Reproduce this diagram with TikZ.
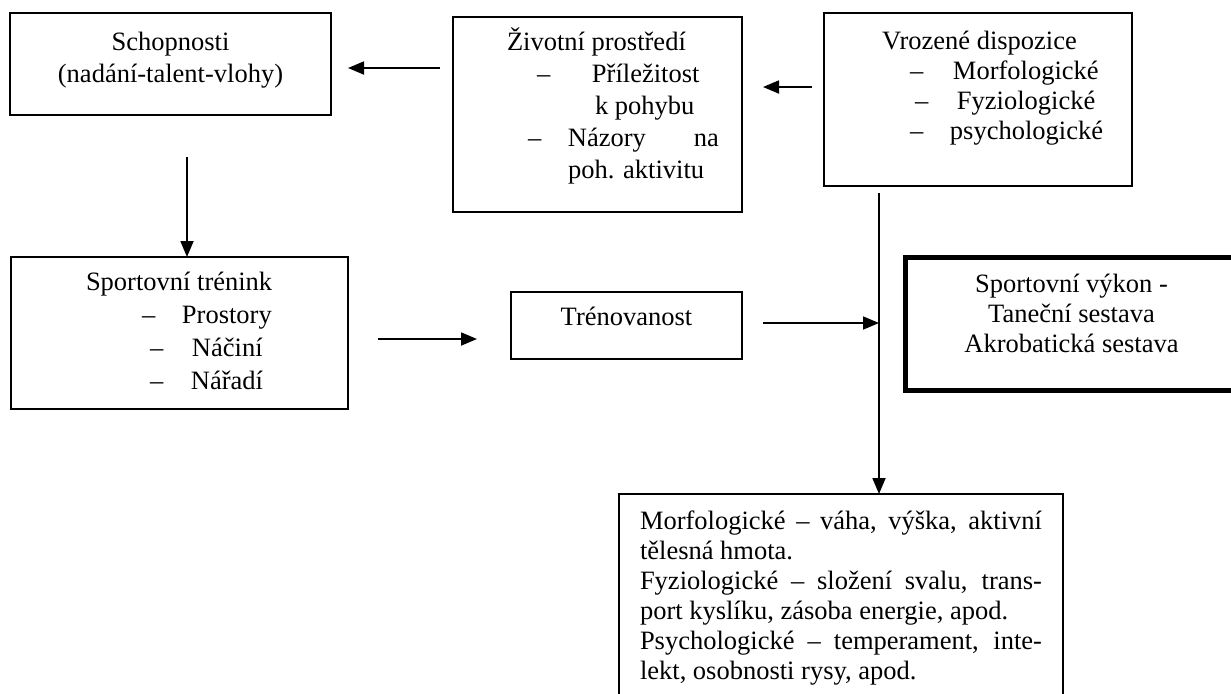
\documentclass[tikz,border=0pt]{standalone}
\usepackage{fontspec}
\setmainfont{Liberation Serif}
\usepackage{tikz}
\usetikzlibrary{arrows.meta}

\newcommand{\obsah}[5]{\parbox[c][#2][t]{#1}{\fontsize{13.25pt}{#3}\selectfont\vspace*{#4}#5}}
\newcommand{\at}[2]{\makebox[0pt][l]{\hspace*{#1}#2}}
\newcommand{\atr}[2]{\makebox[0pt][l]{\hspace*{#1}\makebox[0pt][r]{#2}}}

\tikzset{
    ramecek/.style={draw, line width=0.6pt, inner sep=0pt, outer sep=0pt, anchor=north west},
    sipka/.style={line width=0.9pt, -{Triangle[length=8pt,width=6.5pt]}}
}

\begin{document}
\begin{tikzpicture}[x=0.5pt, y=-0.5pt]
    \useasboundingbox (0,0) rectangle (1231,693);

    % horni rada
    \node[ramecek] (schop) at (10,13)
    {\obsah{160.5pt}{51pt}{16pt}{7.3pt}{\centering
        \strut Schopnosti\\
        \strut(nadání-talent-vlohy)}};

    \node[ramecek] (prostredi) at (453,17)
    {\obsah{144.5pt}{97.5pt}{16.1pt}{5.2pt}{\raggedright
        \strut\at{27pt}{Životní prostředí}\\
        \strut\at{42pt}{–}\at{69.5pt}{Příležitost}\\
        \strut\at{71pt}{k pohybu}\\
        \strut\at{37.5pt}{–}\at{57.5pt}{Názory}\atr{133pt}{na}\\
        \strut\at{57.5pt}{poh. aktivitu}}};

    \node[ramecek] (vrozene) at (824,13)
    {\obsah{154pt}{86.5pt}{15pt}{7.5pt}{\raggedright
        \strut\at{29pt}{Vrozené dispozice}\\
        \strut\at{43pt}{–}\at{64.5pt}{Morfologické}\\
        \strut\at{45.5pt}{–}\at{66.5pt}{Fyziologické}\\
        \strut\at{43pt}{–}\at{63pt}{psychologické}}};

    % stredni rada
    \node[ramecek] (trenink) at (11,257)
    {\obsah{168.5pt}{76pt}{16.5pt}{4.95pt}{\raggedright
        \strut\at{37.5pt}{Sportovní trénink}\\
        \strut\at{65.5pt}{–}\at{85.5pt}{Prostory}\\
        \strut\at{69.5pt}{–}\at{90.5pt}{Náčiní}\\
        \strut\at{69.5pt}{–}\at{90pt}{Nářadí}}};

    \node[ramecek] (trenovanost) at (511,292)
    {\obsah{115.5pt}{33.5pt}{16pt}{5.3pt}{\centering\strut Trénovanost}};

    \node[ramecek, line width=2.5pt] (vykon) at (905,257)
    {\obsah{166.5pt}{66.5pt}{15pt}{7pt}{\centering
        \strut Sportovní výkon -\\
        \strut Taneční sestava\\
        \strut Akrobatická sestava}};

    % dolni ramecek
    \node[ramecek] (projevy) at (619,494)
    {\obsah{222pt}{104pt}{15pt}{7pt}{\raggedright
        \strut\hspace*{10.5pt}\makebox[201pt][s]{Morfologické – váha, výška, aktivní}\\
        \strut\hspace*{10.5pt}tělesná hmota.\\
        \strut\hspace*{10.5pt}\makebox[201pt][s]{Fyziologické – složení svalu, trans-}\\
        \strut\hspace*{10.5pt}port kyslíku, zásoba energie, apod.\\
        \strut\hspace*{10.5pt}\makebox[201pt][s]{Psychologické – temperament, inte-}\\
        \strut\hspace*{10.5pt}lekt, osobnosti rysy, apod.}};

    % sipky
    \draw[sipka, shorten <=6.5pt, shorten >=8.5pt] (prostredi.west |- 0,68) -- (schop.east |- 0,68);
    \draw[sipka, shorten <=6pt, shorten >=10.5pt] (vrozene.west |- 0,87) -- (prostredi.east |- 0,87);
    \draw[sipka, shorten <=21pt] (187,0 |- schop.south) -- (187,0 |- trenink.north);
    \draw[sipka, shorten <=15pt, shorten >=17pt] (trenink.east |- 0,339) -- (trenovanost.west |- 0,339);

    \coordinate (rozcesti) at (879,323);
    \draw[sipka, shorten <=10.5pt] (trenovanost.east |- rozcesti) -- (rozcesti);
    \draw[sipka, shorten <=3.5pt] (rozcesti |- vrozene.south) -- (rozcesti |- projevy.north);
\end{tikzpicture}
\end{document}
